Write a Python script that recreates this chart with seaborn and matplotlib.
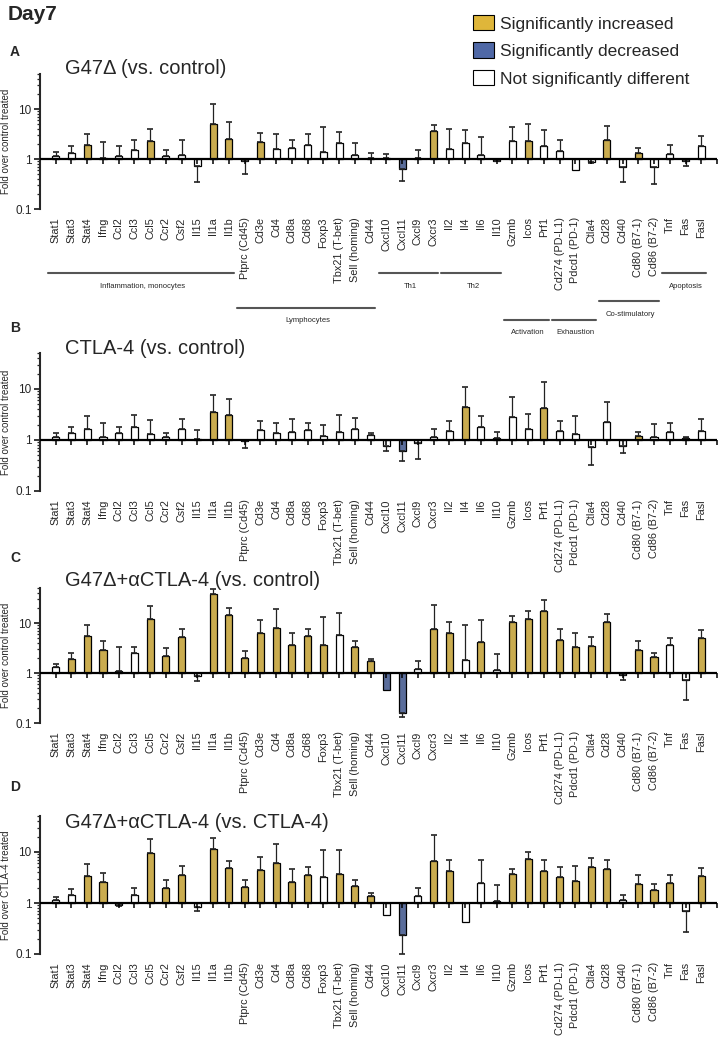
import matplotlib
matplotlib.use("Agg")
import matplotlib.pyplot as plt
import matplotlib.transforms as mtransforms
from matplotlib.patches import Patch
import numpy as np
import pandas as pd
import seaborn as sns

# ---- data ---------------------------------------------------------------
genes = [
    "Stat1", "Stat3", "Stat4", "Ifng", "Ccl2", "Ccl3", "Ccl5", "Ccr2", "Csf2",
    "Il15", "Il1a", "Il1b", "Ptprc (Cd45)", "Cd3e", "Cd4", "Cd8a", "Cd68",
    "Foxp3", "Tbx21 (T-bet)", "Sell (homing)", "Cd44", "Cxcl10", "Cxcl11",
    "Cxcl9", "Cxcr3", "Il2", "Il4", "Il6", "Il10", "Gzmb", "Icos", "Prf1",
    "Cd274 (PD-L1)", "Pdcd1 (PD-1)", "Ctla4", "Cd28", "Cd40", "Cd80 (B7-1)",
    "Cd86 (B7-2)", "Tnf", "Fas", "Fasl",
]

# fold change (bar) and end of the one-sided error bar
fold_a = [1.13, 1.32, 1.93, 1.06, 1.13, 1.51, 2.29, 1.17, 1.18, 0.71, 5.0, 2.55,
          0.93, 2.19, 1.61, 1.68, 1.9, 1.4, 2.09, 1.18, 1.06, 1.06, 0.63, 1.06,
          3.63, 1.61, 2.09, 1.18, 0.93, 2.33, 2.29, 1.79, 1.45, 0.59, 0.87, 2.43,
          0.69, 1.32, 0.69, 1.26, 0.93, 1.79]
err_a = [1.38, 1.85, 3.16, 2.19, 1.79, 2.4, 4.04, 1.51, 2.4, 0.35, 12.8, 5.5,
         0.5, 3.3, 3.16, 2.4, 3.16, 4.3, 3.46, 2.09, 1.32, 1.26, 0.37, 1.54,
         4.7, 4.04, 3.74, 2.71, 0.9, 4.3, 5.0, 3.86, 2.43, 0.59, 0.85, 4.5,
         0.35, 1.68, 0.31, 1.88, 0.71, 2.84]
sig_a = ["N", "N", "U", "N", "N", "N", "U", "N", "N", "N", "U", "U",
         "N", "U", "N", "N", "N", "N", "N", "N", "N", "N", "D", "N",
         "U", "N", "N", "N", "N", "N", "U", "N", "N", "N", "N", "U",
         "N", "U", "N", "N", "N", "N"]

fold_b = [1.16, 1.4, 1.67, 1.13, 1.4, 1.78, 1.31, 1.13, 1.62, 1.06, 3.57, 3.07,
          0.95, 1.58, 1.4, 1.46, 1.58, 1.2, 1.46, 1.62, 1.24, 0.78, 0.62, 0.86,
          1.13, 1.53, 4.41, 1.78, 1.08, 2.8, 1.67, 4.16, 1.53, 1.31, 0.74, 2.26,
          0.78, 1.22, 1.16, 1.44, 1.1, 1.53]
err_b = [1.35, 1.83, 2.89, 2.13, 1.83, 3.07, 2.48, 1.35, 2.63, 1.6, 7.6, 6.4,
         0.69, 2.4, 2.13, 2.63, 2.13, 1.95, 3.07, 2.76, 1.37, 0.62, 0.39, 0.42,
         1.62, 2.4, 10.9, 2.89, 1.44, 6.85, 3.26, 13.5, 2.4, 2.89, 0.33, 5.46,
         0.55, 1.44, 2.04, 2.17, 1.16, 2.56]
sig_b = ["N", "N", "N", "N", "N", "N", "N", "N", "N", "N", "U", "U",
         "N", "N", "N", "N", "N", "N", "N", "N", "N", "N", "D", "N",
         "N", "N", "U", "N", "N", "N", "N", "U", "N", "N", "N", "N",
         "N", "U", "N", "N", "N", "N"]

fold_c = [1.32, 1.9, 5.5, 2.84, 1.12, 2.55, 11.8, 2.19, 5.25, 0.87, 38.0, 14.7,
          1.97, 6.4, 7.8, 3.68, 5.5, 3.68, 5.66, 3.3, 1.71, 0.45, 0.16, 1.22,
          7.5, 6.4, 1.79, 4.1, 1.13, 10.6, 11.8, 17.1, 4.64, 3.3, 3.52, 10.3,
          0.9, 2.84, 2.09, 3.58, 0.74, 4.93]
err_c = [1.54, 2.55, 9.3, 4.3, 3.36, 3.36, 21.8, 3.16, 7.5, 0.68, 48.0, 20.3,
         2.71, 11.3, 18.8, 6.4, 7.5, 13.4, 16.1, 4.3, 1.88, 0.45, 0.13, 1.71,
         23.0, 10.5, 9.3, 11.5, 2.43, 13.6, 17.1, 28.4, 7.6, 6.4, 5.3, 15.4,
         0.71, 4.3, 2.55, 5.0, 0.29, 7.1]
sig_c = ["N", "U", "U", "U", "N", "N", "U", "U", "U", "N", "U", "U",
         "U", "U", "U", "U", "U", "U", "N", "U", "U", "D", "D", "N",
         "U", "U", "N", "U", "N", "U", "U", "U", "U", "U", "U", "U",
         "N", "U", "U", "N", "N", "U"]

fold_d = [1.13, 1.41, 3.38, 2.54, 0.91, 1.46, 9.7, 1.97, 3.6, 0.83, 11.3, 4.86,
          2.06, 4.37, 5.98, 2.58, 3.6, 3.23, 3.76, 2.15, 1.37, 0.59, 0.24, 1.39,
          6.56, 4.17, 0.42, 2.43, 1.11, 3.76, 7.18, 4.17, 3.23, 2.66, 5.08, 4.57,
          1.13, 2.39, 1.77, 2.43, 0.7, 3.43]
err_d = [1.31, 1.85, 5.7, 3.87, 0.88, 2.0, 17.7, 2.78, 5.2, 0.7, 18.5, 6.77,
         2.78, 7.97, 14.6, 4.57, 5.08, 11.1, 11.1, 2.78, 1.55, 0.59, 0.1, 1.94,
         21.8, 6.86, 0.42, 6.86, 2.29, 4.65, 10.1, 6.86, 5.08, 5.4, 7.6, 6.86,
         1.43, 3.54, 2.32, 3.54, 0.27, 4.93]
sig_d = ["N", "N", "U", "U", "N", "N", "U", "U", "U", "N", "U", "U",
         "U", "U", "U", "U", "U", "N", "U", "U", "U", "N", "D", "N",
         "U", "U", "N", "N", "N", "U", "U", "U", "U", "U", "U", "U",
         "N", "U", "U", "U", "N", "U"]

panel_letters = ["A", "B", "C", "D"]
panel_titles = ["G47\u0394 (vs. control)", "CTLA-4 (vs. control)",
                "G47\u0394+\u03b1CTLA-4 (vs. control)",
                "G47\u0394+\u03b1CTLA-4 (vs. CTLA-4)"]
panel_ylabels = ["Fold over control treated", "Fold over control treated",
                 "Fold over control treated", "Fold over CTLA-4 treated"]

group_names = ["Inflammation, monocytes", "Lymphocytes", "Th1", "Th2",
               "Activation", "Exhaustion", "Co-stimulatory", "Apoptosis"]
group_first = ["Stat1", "Ptprc (Cd45)", "Cxcl10", "Il2", "Gzmb", "Cd274 (PD-L1)",
               "Cd28", "Tnf"]
group_last = ["Il1b", "Cd44", "Cxcr3", "Il10", "Prf1", "Ctla4", "Cd86 (B7-2)", "Fasl"]

legend_labels = ["Significantly increased", "Significantly decreased",
                 "Not significantly different"]

# ---- style --------------------------------------------------------------
sns.set_style("ticks")
plt.rcParams["font.family"] = ["Liberation Sans", "DejaVu Sans"]

palette = {"U": "#DFB63A", "D": "#4F68A6", "N": "#FFFFFF"}

W, H = 726, 1039
fig = plt.figure(figsize=(W / 100, H / 100), dpi=100)

# axes geometry in pixels: (y of 0.1 level, pixels per decade)
panel_geom = [(209, 50), (491, 51), (723, 50), (954, 51)]
title_y = [68, 348, 580, 822]
letter_y = [52, 328, 558, 787]
ylim = (0.1, 50)
ax_left, ax_right = 40, 717

panels = [(fold_a, err_a, sig_a), (fold_b, err_b, sig_b),
          (fold_c, err_c, sig_c), (fold_d, err_d, sig_d)]

n = len(genes)
axes = []
for i, (fold, err, sig) in enumerate(panels):
    base, dec = panel_geom[i]
    h_px = dec * np.log10(ylim[1] / ylim[0])
    ax = fig.add_axes([ax_left / W, 1 - base / H, (ax_right - ax_left) / W, h_px / H])
    axes.append(ax)

    df = pd.DataFrame({"gene": genes, "fold": fold, "err": err, "sig": sig})
    df["height"] = df["fold"] - 1
    sns.barplot(data=df, x="gene", y="height", hue="sig", palette=palette,
                order=genes, hue_order=["U", "D", "N"], dodge=False,
                errorbar=None, legend=False, width=0.45, bottom=1,
                edgecolor="black", linewidth=0.9, ax=ax)
    ax.set_yscale("log")

    fold_arr = np.array(fold)
    err_arr = np.array(err)
    up = fold_arr >= 1
    lower = np.where(up, 0, fold_arr - err_arr)
    upper = np.where(up, err_arr - fold_arr, 0)
    has_err = np.abs(err_arr - fold_arr) > 1e-6
    xs = np.arange(n)
    ax.errorbar(xs[has_err], fold_arr[has_err],
                yerr=[lower[has_err], upper[has_err]], fmt="none",
                ecolor="#222222", elinewidth=0.9, capsize=2.2, capthick=1.2,
                zorder=1)

    ax.axhline(1, color="black", lw=1.6, zorder=4)
    ax.plot(np.append(xs, n), np.ones(n + 1), ls="none", marker=3, ms=3.5,
            mew=1.1, color="black", zorder=4, clip_on=False)

    ax.set_xlim(-1, n)
    ax.set_ylim(*ylim)
    ax.set_yticks([0.1, 1, 10])
    ax.set_yticklabels(["0.1", "1", "10"], fontsize=8.5)
    ax.tick_params(axis="y", which="major", length=4, width=1.3, pad=2)
    ax.tick_params(axis="y", which="minor", length=2, width=0.9)
    ax.set_xticks(xs)
    ax.set_xticklabels(genes, rotation=90, fontsize=7.8)
    ax.tick_params(axis="x", length=0, pad=6)
    ax.set_xlabel("")
    ax.set_ylabel(panel_ylabels[i], fontsize=7, labelpad=3)
    for s in ["top", "right", "bottom"]:
        ax.spines[s].set_visible(False)
    ax.spines["left"].set_linewidth(1.5)

    fig.text(65 / W, 1 - title_y[i] / H, panel_titles[i], fontsize=14.5,
             va="center", ha="left")
    fig.text(10 / W, 1 - letter_y[i] / H, panel_letters[i], fontsize=10,
             fontweight="bold", va="center", ha="left")

# group brackets under panel A
ax = axes[0]
trans = mtransforms.blended_transform_factory(ax.transData, fig.transFigure)
line_y = [273, 308, 273, 273, 320, 320, 301, 273]
for name, g0, g1, ly in zip(group_names, group_first, group_last, line_y):
    i0, i1 = genes.index(g0), genes.index(g1)
    ax.plot([i0 - 0.5, i1 + 0.3], [1 - ly / H] * 2, color="#555555", lw=1.5,
            transform=trans, clip_on=False)
    ax.text((i0 + i1) / 2, 1 - (ly + 13) / H, name, fontsize=5.5,
            ha="center", va="center", transform=trans)

fig.text(8 / W, 1 - 15 / H, "Day7", fontsize=15, fontweight="bold",
         va="center", ha="left")

handles = [Patch(facecolor=palette[k], edgecolor="black", linewidth=0.8)
           for k in ["U", "D", "N"]]
fig.legend(handles, legend_labels, loc="upper left",
           bbox_to_anchor=(466 / W, 1 - 8 / H), frameon=False, fontsize=12.5,
           handlelength=1.2, handleheight=1.0, labelspacing=0.62,
           handletextpad=0.35, borderaxespad=0)

fig.savefig("out.png", dpi=100)
